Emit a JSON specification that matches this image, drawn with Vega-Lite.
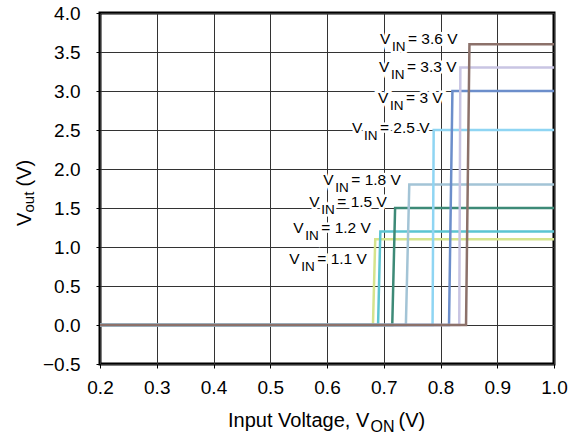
{
  "$schema": "https://vega.github.io/schema/vega-lite/v6.json",
  "width": 454,
  "height": 351,
  "autosize": {"type": "none"},
  "padding": {"left": 100, "top": 13, "right": 14, "bottom": 75},
  "background": "white",
  "config": {
    "font": "Liberation Sans",
    "view": {"stroke": "#000", "strokeWidth": 3},
    "axis": {
      "domain": false,
      "grid": true,
      "gridColor": "#333",
      "gridWidth": 1,
      "gridOpacity": 1,
      "tickColor": "#000",
      "tickSize": 4,
      "tickWidth": 1,
      "labelFont": "Liberation Sans",
      "labelFontSize": 19,
      "labelColor": "#000",
      "labelFlush": false,
      "labelOverlap": false,
      "title": null
    }
  },
  "datasets": {
    "curves": [
      {"vin": "1.1 V", "x": 0.2, "y": 0}, {"vin": "1.1 V", "x": 0.681, "y": 0}, {"vin": "1.1 V", "x": 0.685, "y": 1.1}, {"vin": "1.1 V", "x": 1.0, "y": 1.1},
      {"vin": "1.2 V", "x": 0.2, "y": 0}, {"vin": "1.2 V", "x": 0.690, "y": 0}, {"vin": "1.2 V", "x": 0.694, "y": 1.2}, {"vin": "1.2 V", "x": 1.0, "y": 1.2},
      {"vin": "1.5 V", "x": 0.2, "y": 0}, {"vin": "1.5 V", "x": 0.715, "y": 0}, {"vin": "1.5 V", "x": 0.720, "y": 1.5}, {"vin": "1.5 V", "x": 1.0, "y": 1.5},
      {"vin": "1.8 V", "x": 0.2, "y": 0}, {"vin": "1.8 V", "x": 0.739, "y": 0}, {"vin": "1.8 V", "x": 0.745, "y": 1.8}, {"vin": "1.8 V", "x": 1.0, "y": 1.8},
      {"vin": "2.5 V", "x": 0.2, "y": 0}, {"vin": "2.5 V", "x": 0.786, "y": 0}, {"vin": "2.5 V", "x": 0.788, "y": 2.5}, {"vin": "2.5 V", "x": 1.0, "y": 2.5},
      {"vin": "3 V", "x": 0.2, "y": 0}, {"vin": "3 V", "x": 0.815, "y": 0}, {"vin": "3 V", "x": 0.821, "y": 3.0}, {"vin": "3 V", "x": 1.0, "y": 3.0},
      {"vin": "3.3 V", "x": 0.2, "y": 0}, {"vin": "3.3 V", "x": 0.833, "y": 0}, {"vin": "3.3 V", "x": 0.835, "y": 3.3}, {"vin": "3.3 V", "x": 1.0, "y": 3.3},
      {"vin": "3.6 V", "x": 0.2, "y": 0}, {"vin": "3.6 V", "x": 0.845, "y": 0}, {"vin": "3.6 V", "x": 0.851, "y": 3.6}, {"vin": "3.6 V", "x": 1.0, "y": 3.6}
    ],
    "labels": [
      {"x": 0.6934, "y": 3.60, "rest": "= 3.6 V"},
      {"x": 0.6916, "y": 3.24, "rest": "= 3.3 V"},
      {"x": 0.6899, "y": 2.84, "rest": "= 3 V"},
      {"x": 0.6440, "y": 2.46, "rest": "= 2.5 V"},
      {"x": 0.5935, "y": 1.795, "rest": "= 1.8 V"},
      {"x": 0.5688, "y": 1.513, "rest": "= 1.5 V"},
      {"x": 0.5406, "y": 1.185, "rest": "= 1.2 V"},
      {"x": 0.5336, "y": 0.787, "rest": "= 1.1 V"}
    ],
    "anchor": [{"x": 0.2, "y": -0.5}]
  },
  "encoding": {
    "x": {
      "field": "x",
      "type": "quantitative",
      "scale": {"domain": [0.2, 1.0], "nice": false, "zero": false},
      "axis": {"values": [0.2, 0.3, 0.4, 0.5, 0.6, 0.7, 0.8, 0.9, 1.0], "format": ".1f", "labelPadding": 10}
    },
    "y": {
      "field": "y",
      "type": "quantitative",
      "scale": {"domain": [-0.5, 4.0], "nice": false, "zero": false},
      "axis": {"values": [-0.5, 0, 0.5, 1, 1.5, 2, 2.5, 3, 3.5, 4], "format": ".1f", "labelPadding": 16}
    }
  },
  "layer": [
    {
      "data": {"name": "labels"},
      "mark": {"type": "text", "align": "left", "baseline": "alphabetic", "fontSize": 15.5, "fill": "white", "stroke": "white", "strokeWidth": 5},
      "encoding": {"text": {"value": "V"}}
    },
    {
      "data": {"name": "labels"},
      "mark": {"type": "text", "align": "left", "baseline": "alphabetic", "fontSize": 13.5, "dx": 12, "dy": 7, "fill": "white", "stroke": "white", "strokeWidth": 5},
      "encoding": {"text": {"value": "IN"}}
    },
    {
      "data": {"name": "labels"},
      "mark": {"type": "text", "align": "left", "baseline": "alphabetic", "fontSize": 15.5, "dx": 28, "fill": "white", "stroke": "white", "strokeWidth": 5},
      "encoding": {"text": {"field": "rest"}}
    },
    {
      "data": {"name": "curves"},
      "mark": {"type": "line", "strokeWidth": 2.5},
      "encoding": {
        "color": {
          "field": "vin",
          "type": "nominal",
          "sort": null,
          "scale": {
            "domain": ["1.1 V", "1.2 V", "1.5 V", "1.8 V", "2.5 V", "3 V", "3.3 V", "3.6 V"],
            "range": ["#d5e48c", "#5cc5d1", "#3d8a77", "#a3c4d6", "#8fd5f3", "#6c8ecb", "#c9c5e3", "#8c716a"]
          },
          "legend": null
        }
      }
    },
    {
      "data": {"name": "labels"},
      "mark": {"type": "text", "align": "left", "baseline": "alphabetic", "fontSize": 15.5, "fill": "#000"},
      "encoding": {"text": {"value": "V"}}
    },
    {
      "data": {"name": "labels"},
      "mark": {"type": "text", "align": "left", "baseline": "alphabetic", "fontSize": 13.5, "dx": 12, "dy": 7, "fill": "#000"},
      "encoding": {"text": {"value": "IN"}}
    },
    {
      "data": {"name": "labels"},
      "mark": {"type": "text", "align": "left", "baseline": "alphabetic", "fontSize": 15.5, "dx": 28, "fill": "#000"},
      "encoding": {"text": {"field": "rest"}}
    },
    {
      "data": {"name": "anchor"},
      "mark": {"type": "text", "align": "left", "baseline": "alphabetic", "fontSize": 20, "dx": 128, "dy": 63, "fill": "#000"},
      "encoding": {"text": {"value": "Input Voltage, V"}}
    },
    {
      "data": {"name": "anchor"},
      "mark": {"type": "text", "align": "left", "baseline": "alphabetic", "fontSize": 16, "dx": 270.5, "dy": 67.5, "fill": "#000"},
      "encoding": {"text": {"value": "ON"}}
    },
    {
      "data": {"name": "anchor"},
      "mark": {"type": "text", "align": "left", "baseline": "alphabetic", "fontSize": 20, "dx": 298.5, "dy": 63, "fill": "#000"},
      "encoding": {"text": {"value": "(V)"}}
    },
    {
      "data": {"name": "anchor"},
      "mark": {"type": "text", "align": "left", "baseline": "alphabetic", "angle": 270, "fontSize": 20, "dx": 138, "dy": -69, "fill": "#000"},
      "encoding": {"text": {"value": "V"}}
    },
    {
      "data": {"name": "anchor"},
      "mark": {"type": "text", "align": "left", "baseline": "alphabetic", "angle": 270, "fontSize": 15, "dx": 151.5, "dy": -66, "fill": "#000"},
      "encoding": {"text": {"value": "out"}}
    },
    {
      "data": {"name": "anchor"},
      "mark": {"type": "text", "align": "left", "baseline": "alphabetic", "angle": 270, "fontSize": 20, "dx": 177.5, "dy": -69, "fill": "#000"},
      "encoding": {"text": {"value": "(V)"}}
    }
  ]
}
